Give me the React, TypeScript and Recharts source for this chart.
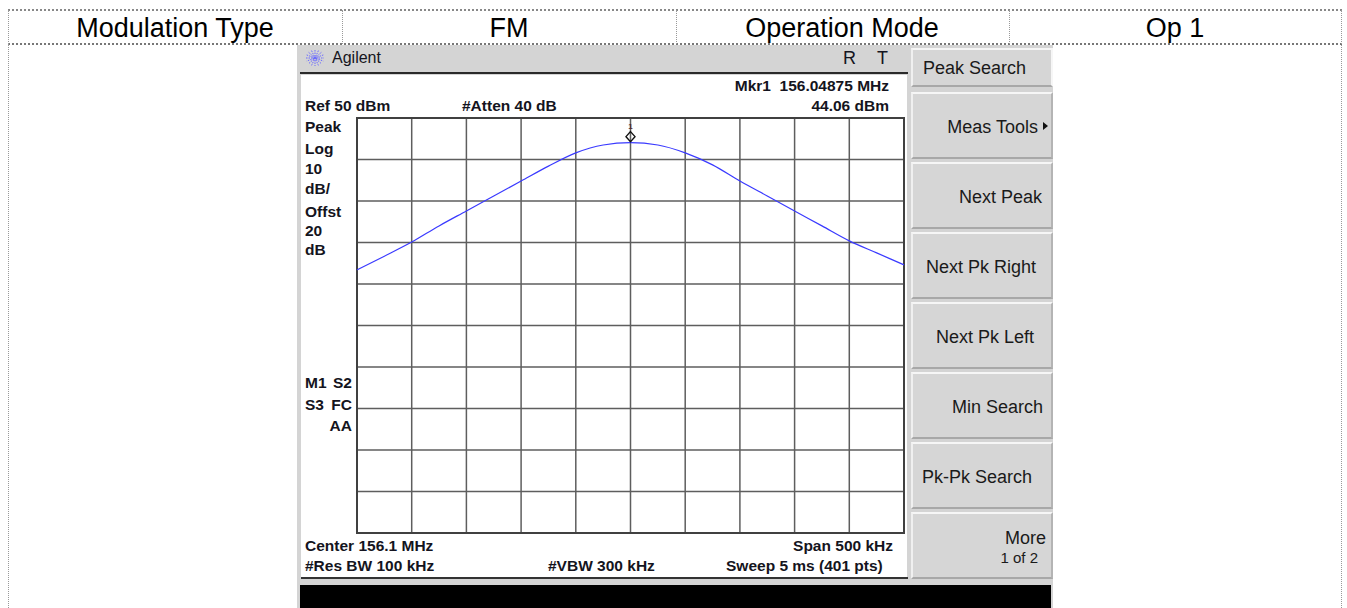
import React from 'react';
import { LineChart, Line, XAxis, YAxis, CartesianGrid, ReferenceDot, ReferenceArea } from 'recharts';

// ---- data ----
const headerCells = ['Modulation Type', 'FM', 'Operation Mode', 'Op 1'];
const freqOffsetKHz = [-250, -225, -200, -175, -150, -125, -100, -75, -50, -25, 0, 25, 50, 75, 100, 125, 150, 175, 200, 225, 250];
const levelDbm = [13.4, 16.7, 20.1, 24.0, 27.6, 31.2, 34.8, 38.4, 41.6, 43.5, 44.06, 43.5, 41.6, 38.7, 34.8, 31.2, 27.6, 24.0, 20.4, 17.5, 14.6];
const xTicks = [-250, -200, -150, -100, -50, 0, 50, 100, 150, 200, 250];
const yTicks = [-50, -40, -30, -20, -10, 0, 10, 20, 30, 40, 50];
const markerFreq = 0;
const markerLevel = 44.06;
const leftLabels = ['Peak', 'Log', '10', 'dB/', 'Offst', '20', 'dB'];
const softkeys = ['Peak Search', 'Meas Tools', 'Next Peak', 'Next Pk Right', 'Next Pk Left', 'Min Search', 'Pk-Pk Search', 'More'];

const traceData = freqOffsetKHz.map((f, i) => ({ f, v: levelDbm[i] }));

const FONT = '"Liberation Sans", Arial, sans-serif';
const W = 1347;

type TProps = { x: number; y: number; text: string; size?: number; bold?: boolean; align?: 'left' | 'right' | 'center'; color?: string };
const T = ({ x, y, text, size = 15.5, bold = true, align = 'left', color = '#141420' }: TProps) => {
  const h = Math.round(size + 6);
  const style: React.CSSProperties = {
    position: 'absolute',
    top: y - h / 2,
    height: h,
    lineHeight: `${h}px`,
    fontSize: size,
    fontWeight: bold ? 700 : 400,
    color,
    whiteSpace: 'pre',
    fontFamily: FONT,
  };
  if (align === 'left') style.left = x;
  else if (align === 'right') style.right = W - x;
  else { style.left = x - 200; style.width = 400; style.textAlign = 'center'; }
  return <div style={style}>{text}</div>;
};

const keyLayout = [
  { top: 48, h: 39 }, { top: 92, h: 67 }, { top: 162, h: 67 }, { top: 232, h: 67 },
  { top: 302, h: 67 }, { top: 372, h: 67 }, { top: 442, h: 67 }, { top: 512, h: 67 },
];
const keyText = [
  { x: 923, y: 68, align: 'left' }, { x: 1038, y: 127, align: 'right' }, { x: 1042, y: 197, align: 'right' },
  { x: 926, y: 267, align: 'left' }, { x: 936, y: 337, align: 'left' }, { x: 1043, y: 407, align: 'right' },
  { x: 922, y: 477, align: 'left' }, { x: 1046, y: 538, align: 'right' },
];

const MarkerShape = (props: any) => {
  const { cx, cy } = props;
  if (cx == null || cy == null) return null;
  const b = cy - 1;
  return (
    <g>
      <polygon points={`${cx},${b - 10} ${cx + 4.5},${b - 5} ${cx},${b} ${cx - 4.5},${b - 5}`} fill="none" stroke="#111" strokeWidth={1.4} />
      <text x={cx} y={b - 13} textAnchor="middle" fontSize={8} fontWeight={700} fill="#5a2a2a" fontFamily={FONT}>1</text>
    </g>
  );
};

const Icon = () => (
  <svg width={22} height={20} style={{ position: 'absolute', left: 304, top: 48 }}>
    {[0, 22.5, 45, 67.5, 90, 112.5, 135, 157.5].map((a) => {
      const r = (a * Math.PI) / 180;
      return (
        <line key={a} x1={11 - Math.cos(r) * 9} y1={10 - Math.sin(r) * 8} x2={11 + Math.cos(r) * 9} y2={10 + Math.sin(r) * 8}
          stroke="#6a6aff" strokeWidth={1} strokeDasharray="1.5 1" />
      );
    })}
  </svg>
);

export default function App() {
  return (
    <div style={{ position: 'fixed', left: 0, top: 0, width: W, height: 608, background: '#fff', overflow: 'hidden', fontFamily: FONT }}>
      {/* table lines */}
      <div style={{ position: 'absolute', left: 8, top: 9, width: 1334, height: 0, borderTop: '2px dotted #888' }} />
      <div style={{ position: 'absolute', left: 8, top: 43, width: 1334, height: 0, borderTop: '2px dotted #777' }} />
      {[8, 342, 676, 1009].map((x) => (
        <div key={x} style={{ position: 'absolute', left: x, top: 10, width: 0, height: 34, borderLeft: '1px dotted #999' }} />
      ))}
      <div style={{ position: 'absolute', left: 1341, top: 10, width: 0, height: 600, borderLeft: '1px dotted #999' }} />
      <div style={{ position: 'absolute', left: 8, top: 44, width: 0, height: 570, borderLeft: '1px dotted #999' }} />
      {headerCells.map((c, i) => (
        <T key={c} x={[175, 509, 842, 1175][i]} y={28} text={c} size={27} bold={false} align="center" color="#000" />
      ))}

      {/* instrument frame */}
      <div style={{ position: 'absolute', left: 297, top: 45, width: 756, height: 563, background: '#d4d4d4' }} />
      <Icon />
      <T x={332} y={58} text="Agilent" size={16} bold={false} />
      <T x={843} y={58} text="R" size={18} bold={false} />
      <T x={877} y={58} text="T" size={18} bold={false} />
      <div style={{ position: 'absolute', left: 300, top: 72, width: 608, height: 2, background: '#2a2a2a' }} />
      <div style={{ position: 'absolute', left: 301, top: 75, width: 606, height: 502, background: '#fff' }} />
      <div style={{ position: 'absolute', left: 301, top: 577, width: 607, height: 2, background: '#333' }} />
      <div style={{ position: 'absolute', left: 300, top: 585, width: 751, height: 23, background: '#000' }} />

      {/* softkeys */}
      {softkeys.map((k, i) => (
        <div key={k} style={{
          position: 'absolute', left: 911, top: keyLayout[i].top, width: 142, height: keyLayout[i].h, boxSizing: 'border-box',
          background: '#d6d6d6', borderTop: '2px solid #f6f6f6', borderLeft: '2px solid #f0f0f0',
          borderBottom: '2px solid #a8a8a8', borderRight: i === 0 ? '2px solid #f6f6f6' : '2px solid #b4b4b4',
        }} />
      ))}
      {softkeys.map((k, i) => (
        <T key={k + 't'} x={keyText[i].x} y={keyText[i].y} text={k} size={18} bold={false} align={keyText[i].align as any} color="#1a1a1a" />
      ))}
      <T x={1038} y={557} text="1 of 2" size={15} bold={false} align="right" color="#1a1a1a" />
      <svg width={8} height={10} style={{ position: 'absolute', left: 1043, top: 122 }}>
        <polygon points="0,0 5,4 0,8" fill="#111" />
      </svg>

      {/* annotations */}
      <T x={889} y={86} text={'Mkr1  156.04875 MHz'} align="right" />
      <T x={305} y={106} text="Ref 50 dBm" />
      <T x={462} y={106} text="#Atten 40 dB" />
      <T x={889} y={106} text="44.06 dBm" align="right" />
      {leftLabels.map((l, i) => (
        <T key={l + i} x={305} y={[127, 149, 169, 189, 212, 231, 250][i]} text={l} />
      ))}
      <T x={305} y={383} text="M1" />
      <T x={352} y={383} text="S2" align="right" />
      <T x={305} y={405} text="S3" />
      <T x={352} y={405} text="FC" align="right" />
      <T x={352} y={426} text="AA" align="right" />
      <T x={305} y={546} text="Center 156.1 MHz" />
      <T x={893} y={546} text="Span 500 kHz" align="right" />
      <T x={305} y={566} text="#Res BW 100 kHz" />
      <T x={548} y={566} text="#VBW 300 kHz" />
      <T x={726} y={566} text="Sweep 5 ms (401 pts)" />

      {/* trace chart */}
      <div style={{ position: 'absolute', left: 347, top: 108 }}>
        <LineChart width={567} height={435} data={traceData} margin={{ top: 10, right: 10, bottom: 10, left: 10 }}>
          <XAxis dataKey="f" type="number" domain={[-250, 250]} ticks={xTicks} hide />
          <YAxis type="number" domain={[-50, 50]} ticks={yTicks} hide />
          <CartesianGrid stroke="#5e5e5e" strokeWidth={1.5} />
          <ReferenceArea x1={-250} x2={250} y1={-50} y2={50} fill="none" stroke="#404040" strokeWidth={2} />
          <Line type="monotone" dataKey="v" stroke="#3a3aff" strokeWidth={1.2} dot={false} isAnimationActive={false} />
          <ReferenceDot x={markerFreq} y={markerLevel} shape={MarkerShape} />
        </LineChart>
      </div>
    </div>
  );
}
